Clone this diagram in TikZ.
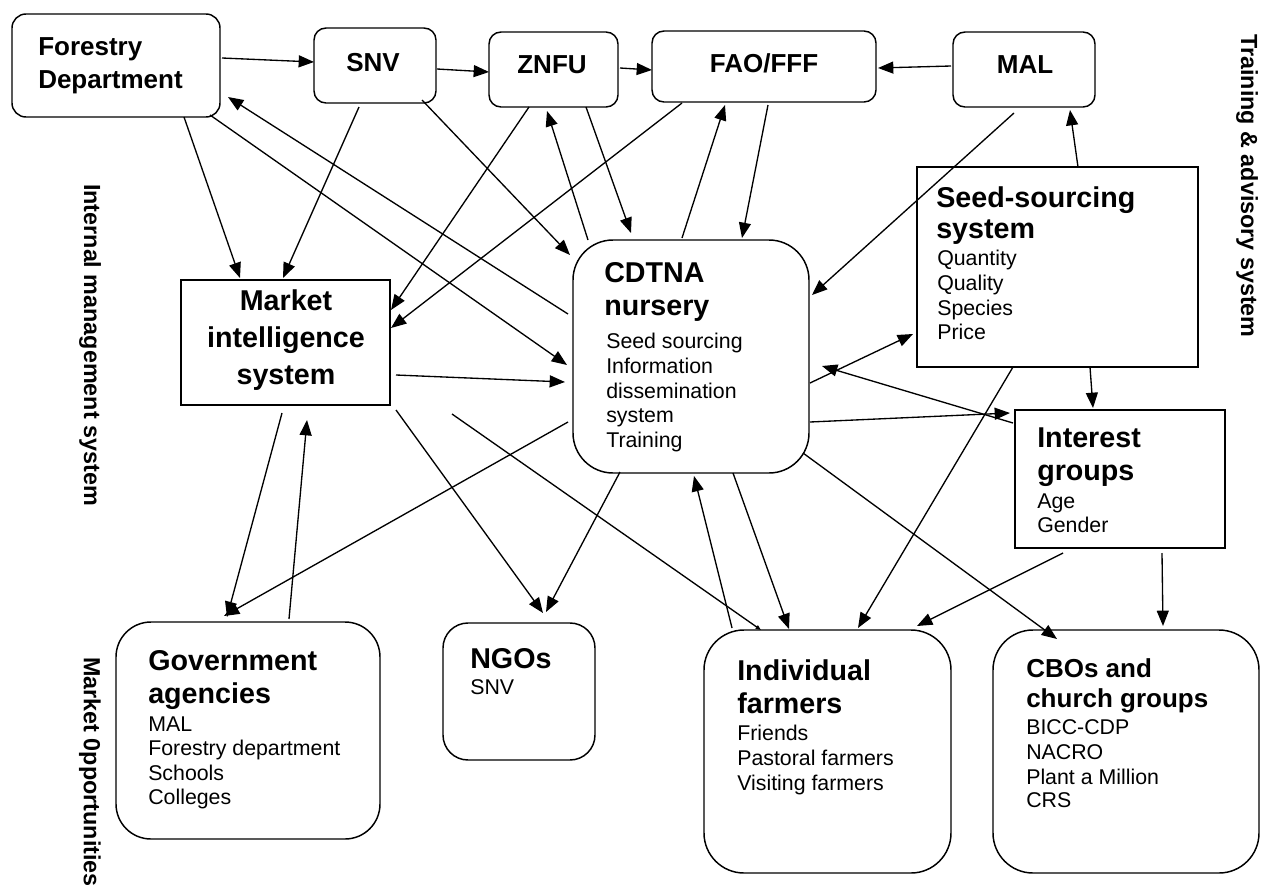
\documentclass[tikz,border=0pt]{standalone}
\usepackage{fontspec}
\setmainfont{Liberation Sans}
\usetikzlibrary{arrows.meta}
\begin{document}
\begin{tikzpicture}[x=0.75pt,y=-0.75pt,
 bx/.style={draw, line width=1.1pt, inner sep=0pt, outer sep=0pt, anchor=north west},
 con/.style={line width=1pt, -{Triangle[length=11.5pt,width=9pt]}},
 tinycon/.style={line width=1pt, -{Triangle[length=4pt,width=3pt]}},
 hd/.style={font=\bfseries\fontsize{21.5}{25}\selectfont, anchor=base west, inner sep=0pt},
 hdc/.style={font=\bfseries\fontsize{19.5}{23}\selectfont, anchor=base west, inner sep=0pt},
 hdtop/.style={font=\bfseries\fontsize{19.5}{23}\selectfont, anchor=base, inner sep=0pt},
 sm/.style={font=\fontsize{16}{19}\selectfont, anchor=base west, inner sep=0pt},
 side/.style={font=\bfseries\fontsize{17.5}{20}\selectfont, rotate=-90, inner sep=0pt}]
\useasboundingbox[fill=white] (0,0) rectangle (1261,893);

% ---- boxes
\node[bx, rounded corners=10.5pt, minimum width=156pt, minimum height=77.25pt] (fd) at (12,14) {};
\node[bx, rounded corners=9pt, minimum width=91.5pt, minimum height=56.25pt] (snv) at (314,28) {};
\node[bx, rounded corners=9pt, minimum width=96.75pt, minimum height=56.25pt] (znfu) at (489,32) {};
\node[bx, rounded corners=9pt, minimum width=168pt, minimum height=53.25pt] (fao) at (652,31) {};
\node[bx, rounded corners=9pt, minimum width=106.5pt, minimum height=56.25pt] (mal) at (953,32) {};
\node[bx, minimum width=210.75pt, minimum height=150pt] (seed) at (917,167) {};
\node[bx, rounded corners=30pt, minimum width=177pt, minimum height=174.75pt] (cdtna) at (573,240) {};
\node[bx, minimum width=156.75pt, minimum height=93.75pt] (mi) at (181,280) {};
\node[bx, minimum width=157.5pt, minimum height=103.5pt] (intg) at (1015,410) {};
\node[bx, rounded corners=26.25pt, minimum width=198pt, minimum height=162.75pt] (gov) at (116,622) {};
\node[bx, rounded corners=18.75pt, minimum width=114pt, minimum height=102.75pt] (ngo) at (443,623) {};
\node[bx, rounded corners=30pt, minimum width=185.25pt, minimum height=182.25pt] (ind) at (704,630) {};
\node[bx, rounded corners=30pt, minimum width=199.5pt, minimum height=182.25pt] (cbo) at (993,630) {};

% ---- texts
\node[hdc] (fd1) at (38,55) {Forestry};
\node[hdc] (fd2) at (38,88) {Department};
\node[hdtop] (snvt) at (373,71) {SNV};
\node[hdtop] (znfut) at (552,73) {ZNFU};
\node[hdtop] (faot) at (764,72) {FAO/FFF};
\node[hdtop] (malt) at (1025,73) {MAL};

\node[hd] (sd1) at (936,207) {Seed-sourcing};
\node[hd] (sd2) at (936,238) {system};
\node[sm] (sd3) at (937,265) {Quantity};
\node[sm] (sd4) at (937,290) {Quality};
\node[sm] (sd5) at (937,315) {Species};
\node[sm] (sd6) at (937,339) {Price};

\node[hd] (cd1) at (604,282) {CDTNA};
\node[hd] (cd2) at (604,315) {nursery};
\node[sm] (cd3) at (606,348) {Seed sourcing};
\node[sm] (cd4) at (606,373) {Information};
\node[sm] (cd5) at (606,398) {dissemination};
\node[sm] (cd6) at (606,422) {system};
\node[sm] (cd7) at (606,447) {Training};

\node[hd, anchor=base] (mi1) at (286,310) {Market};
\node[hd, anchor=base] (mi2) at (286,347) {intelligence};
\node[hd, anchor=base] (mi3) at (286,384) {system};

\node[hd] (ig1) at (1037,447) {Interest};
\node[hd] (ig2) at (1037,480) {groups};
\node[sm] (ig3) at (1037,508) {Age};
\node[sm] (ig4) at (1037,532) {Gender};

\node[hd] (gv1) at (148,670) {Government};
\node[hd] (gv2) at (148,703) {agencies};
\node[sm] (gv3) at (148,731) {MAL};
\node[sm] (gv4) at (148,755) {Forestry department};
\node[sm] (gv5) at (148,780) {Schools};
\node[sm] (gv6) at (148,804) {Colleges};

\node[hd] (ng1) at (470,668) {NGOs};
\node[sm] (ng2) at (470,694) {SNV};

\node[hd] (in1) at (737,680) {Individual};
\node[hd] (in2) at (737,713) {farmers};
\node[sm] (in3) at (737,740) {Friends};
\node[sm] (in4) at (737,765) {Pastoral farmers};
\node[sm] (in5) at (737,790) {Visiting farmers};

\node[hdc] (cb1) at (1026,677) {CBOs and};
\node[hdc] (cb2) at (1026,707) {church groups};
\node[sm] (cb3) at (1026,734) {BICC-CDP};
\node[sm] (cb4) at (1026,759) {NACRO};
\node[sm] (cb5) at (1026,784) {Plant a Million};
\node[sm] (cb6) at (1026,807) {CRS};

\node[side] (lbl1) at (90,345) {Internal management system};
\node[side] (lbl2) at (90,772) {Market 0pportunities};
\node[side, anchor=base] (lbl3) at (1241,186) {Training \& advisory system};

% ---- connectors
\draw[con] ([shift={(210,44)}]fd.north west) -- ([shift={(0,34)}]snv.north west);
\draw[con] ([shift={(123,41)}]snv.north west) -- ([shift={(0,40)}]znfu.north west);
\draw[con] ([shift={(131,36)}]znfu.north west) -- ([shift={(0,39)}]fao.north west);
\draw[con] ([shift={(-2,34)}]mal.north west) -- ([shift={(226,37)}]fao.north west);
\draw[con] ([shift={(172,103)}]fd.north west) -- ([shift={(59,-2)}]mi.north west);
\draw[con] ([shift={(45,79)}]snv.north west) -- ([shift={(102,-2)}]mi.north west);
\draw[con] ([shift={(40,75)}]znfu.north west) -- ([shift={(210,30)}]mi.north west);
\draw[con] ([shift={(30,72)}]fao.north west) -- ([shift={(210,48)}]mi.north west);
\draw[con] ([shift={(198,101)}]fd.north west) -- ([shift={(-6,125)}]cdtna.north west);
\draw[con] ([shift={(-5,74)}]cdtna.north west) -- ([shift={(216,83)}]fd.north west);
\draw[con] ([shift={(108,72)}]snv.north west) -- ([shift={(-3,15)}]cdtna.north west);
\draw[con] ([shift={(97,75)}]znfu.north west) -- ([shift={(58,-7)}]cdtna.north west);
\draw[con] ([shift={(15,0)}]cdtna.north west) -- ([shift={(58,79)}]znfu.north west);
\draw[con] ([shift={(109,-2)}]cdtna.north west) -- ([shift={(73,74)}]fao.north west);
\draw[con] ([shift={(116,74)}]fao.north west) -- ([shift={(169,-2)}]cdtna.north west);
\draw[con] ([shift={(61,81)}]mal.north west) -- ([shift={(239,55)}]cdtna.north west);
\draw[con] ([shift={(161,0)}]seed.north west) -- ([shift={(117,78)}]mal.north west);
\draw[con] ([shift={(237,143)}]cdtna.north west) -- ([shift={(-4,167)}]seed.north west);
\draw[con] ([shift={(-2,13)}]intg.north west) -- ([shift={(249,126)}]cdtna.north west);
\draw[con] ([shift={(237,182)}]cdtna.north west) -- ([shift={(-5,3)}]intg.north west);
\draw[con] ([shift={(173,200)}]seed.north west) -- ([shift={(78,-2)}]intg.north west);
\draw[con] ([shift={(96,200)}]seed.north west) -- ([shift={(154,-2)}]ind.north west);
\draw[con] ([shift={(48,143)}]intg.north west) -- ([shift={(213,-4)}]ind.north west);
\draw[con] ([shift={(147,143)}]intg.north west) -- ([shift={(170,-4)}]cbo.north west);
\draw[con] ([shift={(230,213)}]cdtna.north west) -- ([shift={(64,9)}]cbo.north west);
\draw[con] ([shift={(160,233)}]cdtna.north west) -- ([shift={(85,-1)}]ind.north west);
\draw[con] ([shift={(28,-2)}]ind.north west) -- ([shift={(121,236)}]cdtna.north west);
\draw[tinycon] ([shift={(271,134)}]mi.north west) -- ([shift={(57,0)}]ind.north west);
\draw[con] ([shift={(215,130)}]mi.north west) -- ([shift={(100,-10)}]ngo.north west);
\draw[con] ([shift={(47,232)}]cdtna.north west) -- ([shift={(103,-11)}]ngo.north west);
\draw[con] ([shift={(-5,182)}]cdtna.north west) -- ([shift={(108,-6)}]gov.north west);
\draw[con] ([shift={(101,133)}]mi.north west) -- ([shift={(111,-5)}]gov.north west);
\draw[con] ([shift={(173,-3)}]gov.north west) -- ([shift={(126,140)}]mi.north west);
\draw[con] ([shift={(215,95)}]mi.north west) -- ([shift={(-8,142)}]cdtna.north west);
\end{tikzpicture}
\end{document}
